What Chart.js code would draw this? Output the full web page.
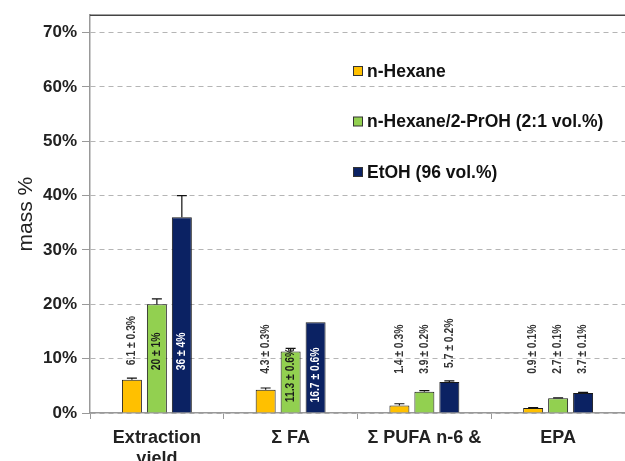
<!DOCTYPE html>
<html>
<head>
<meta charset="utf-8">
<script src="https://cdn.jsdelivr.net/npm/chart.js@4.4.1/dist/chart.umd.min.js"></script>
<style>
  html, body { margin: 0; background: #fff; }
  #wrap { width: 625px; height: 461px; position: relative; }
</style>
</head>
<body>
<div id="wrap"><canvas id="c"></canvas></div>
<script>
// ---- data ----
const categories  = [['Extraction', 'yield'], 'Σ FA', 'Σ PUFA n-6 &', 'EPA'];
const seriesNames = ['n-Hexane', 'n-Hexane/2-PrOH (2:1 vol.%)', 'EtOH (96 vol.%)'];

const hexane       = [6.1, 4.3, 1.4, 0.9];
const hexanePrOH   = [20, 11.3, 3.9, 2.7];
const ethanol      = [36, 16.7, 5.7, 3.7];

const hexaneErr     = [0.3, 0.3, 0.3, 0.1];
const hexanePrOHErr = [1, 0.6, 0.2, 0.1];
const ethanolErr    = [4, 0, 0.2, 0.1];   // no whisker drawn on the Σ FA bar in the original

const hexaneText     = ['6.1 ± 0.3%', '4.3 ± 0.3%', '1.4 ± 0.3%', '0.9 ± 0.1%'];
const hexanePrOHText = ['20 ± 1%', '11.3 ± 0.6%', '3.9 ± 0.2%', '2.7 ± 0.1%'];
const ethanolText    = ['36 ± 4%', '16.7 ± 0.6%', '5.7 ± 0.2%', '3.7 ± 0.1%'];

const FONT = 'Liberation Sans, Arial, sans-serif';
Chart.defaults.font.family = FONT;

const SQUEEZE = 0.86;   // the original labels use a condensed face

// upper-only error whiskers
const errorBars = {
  id: 'errorBars',
  afterDatasetsDraw(chart) {
    const { ctx, scales: { y } } = chart;
    ctx.save();
    ctx.strokeStyle = '#111';
    ctx.lineWidth = 1.2;
    chart.data.datasets.forEach((ds, i) => {
      chart.getDatasetMeta(i).data.forEach((bar, j) => {
        const err = ds.errors[j];
        if (!err) return;
        const yTop = y.getPixelForValue(ds.data[j] + err);
        ctx.beginPath();
        ctx.moveTo(bar.x, bar.y);
        ctx.lineTo(bar.x, yTop);
        ctx.moveTo(bar.x - 5, yTop);
        ctx.lineTo(bar.x + 5, yTop);
        ctx.stroke();
      });
    });
    ctx.restore();
  }
};

// rotated "value ± sd" labels, inside the bar when it is tall enough
const valueLabels = {
  id: 'valueLabels',
  afterDatasetsDraw(chart) {
    const { ctx, scales: { y } } = chart;
    ctx.save();
    ctx.font = 'bold 12px ' + FONT;
    ctx.textBaseline = 'middle';
    const outsideBase = y.getPixelForValue(7.2);
    chart.data.labels.forEach((_, j) => {
      const items = chart.data.datasets.map((ds, i) => {
        const bar = chart.getDatasetMeta(i).data[j];
        const text = ds.valueText[j];
        const w = ctx.measureText(text).width * SQUEEZE;
        return { ds, bar, text, inside: (bar.base - bar.y) > w + 2 };
      });
      const mids = items.filter(it => it.inside).map(it => (it.bar.y + it.bar.base) / 2);
      const midY = mids.length ? Math.max(...mids) - 7 : 0;
      items.forEach(it => {
        ctx.save();
        if (it.inside) {
          ctx.translate(it.bar.x, midY);
          ctx.textAlign = 'center';
          ctx.fillStyle = it.ds.insideTextColor;
        } else {
          const top = y.getPixelForValue(it.ds.data[j] + (it.ds.errors[j] || 0));
          ctx.translate(it.bar.x, Math.min(top - 13, outsideBase));
          ctx.textAlign = 'left';
          ctx.fillStyle = '#333';
        }
        ctx.rotate(-Math.PI / 2);
        ctx.scale(SQUEEZE, 1);
        ctx.fillText(it.text, 0, 0);
        ctx.restore();
      });
    });
    ctx.restore();
  }
};

// legend placed inside the plot, plus the dark top frame line
const frameAndLegend = {
  id: 'frameAndLegend',
  afterDraw(chart) {
    const { ctx, chartArea: a } = chart;
    ctx.save();
    ctx.strokeStyle = '#444';
    ctx.lineWidth = 1.5;
    ctx.beginPath();
    ctx.moveTo(a.left, a.top);
    ctx.lineTo(a.right, a.top);
    ctx.stroke();

    ctx.font = 'bold 17.5px ' + FONT;
    ctx.textBaseline = 'middle';
    ctx.textAlign = 'left';
    chart.data.datasets.forEach((ds, i) => {
      const cy = 71 + i * 50.5;
      ctx.fillStyle = ds.backgroundColor;
      ctx.fillRect(353.5, cy - 4.5, 9, 9);
      ctx.strokeStyle = '#333';
      ctx.lineWidth = 1;
      ctx.strokeRect(353.5, cy - 4.5, 9, 9);
      ctx.fillStyle = '#111';
      ctx.fillText(ds.label, 367, cy + 1);
    });
    ctx.restore();
  }
};

const series = [
  { label: seriesNames[0], data: hexane,     errors: hexaneErr,     valueText: hexaneText,     backgroundColor: '#FFC000', insideTextColor: '#222' },
  { label: seriesNames[1], data: hexanePrOH, errors: hexanePrOHErr, valueText: hexanePrOHText, backgroundColor: '#92D050', insideTextColor: '#1a1a1a' },
  { label: seriesNames[2], data: ethanol,    errors: ethanolErr,    valueText: ethanolText,    backgroundColor: '#0B2263', insideTextColor: '#fff' },
];

new Chart(document.getElementById('c'), {
  type: 'bar',
  data: {
    labels: categories,
    datasets: series.map(s => ({
      ...s,
      borderColor: '#1a1a1a',
      borderWidth: 1,
      categoryPercentage: 0.56,
      barPercentage: 0.8,
    })),
  },
  options: {
    responsive: true,
    maintainAspectRatio: false,
    animation: false,
    layout: { padding: { top: 14.5, left: 0, right: 0, bottom: 0 } },
    plugins: {
      legend: { display: false },
      tooltip: { enabled: false },
    },
    scales: {
      x: {
        afterFit: s => { s.height = 48; },
        grid: { offset: true, drawOnChartArea: false, tickLength: 6, color: '#999' },
        border: { color: '#999', width: 1.5 },
        ticks: { font: { size: 18, weight: 'bold' }, color: '#222', padding: 8, maxRotation: 0 },
      },
      y: {
        min: 0,
        max: 73.2,
        afterFit: s => { s.width = 90; },
        grid: { color: '#b5b5b5', lineWidth: 1, tickColor: '#999', tickLength: 8 },
        border: { color: '#999', width: 1.5, dash: [5, 4] },
        ticks: {
          stepSize: 10,
          includeBounds: false,
          callback: v => v + '%',
          font: { size: 17, weight: 'bold' },
          color: '#222',
          padding: 5,
        },
        title: {
          display: true,
          text: 'mass %',
          font: { size: 21 },
          color: '#222',
          padding: { top: 14, bottom: 0 },
        },
      },
    },
  },
  plugins: [errorBars, valueLabels, frameAndLegend],
});
</script>
</body>
</html>
